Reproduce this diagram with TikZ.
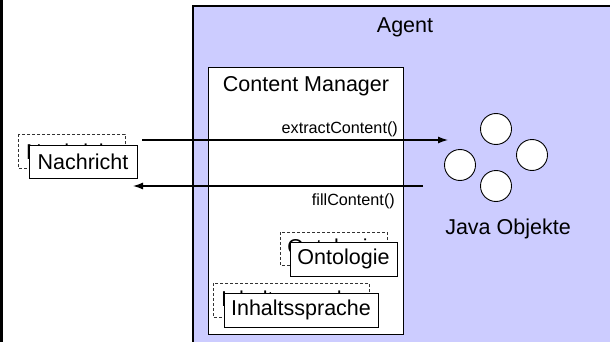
\documentclass[tikz,border=0pt]{standalone}
\usepackage{fontspec}
\setmainfont{Liberation Sans}
\usetikzlibrary{arrows.meta}
\definecolor{agentfill}{HTML}{CCCCFF}
\tikzset{
  big/.style={font=\fontsize{21.5}{24}\selectfont, inner sep=0pt},
  small/.style={font=\fontsize{16.2}{18}\selectfont, inner sep=0pt},
  solidbox/.style={draw=black, line width=0.9pt, fill=white},
  dashbox/.style={draw=black!80, line width=0.8pt, dash pattern=on 3pt off 2pt},
  flow/.style={draw=black, line width=1.3pt, -{Latex[length=10pt,width=7pt]}},
  obj/.style={circle, draw=black, line width=0.9pt, fill=white, minimum size=31pt, inner sep=0pt}
}
\begin{document}
\begin{tikzpicture}[x=1pt,y=-1pt]
\useasboundingbox (0,0) rectangle (610,342);
\clip (0,0) rectangle (610,342);
\fill[white] (0,0) rectangle (610,342);

% left frame edge
\draw[line width=3pt] (1.5,-2) -- (1.5,345);

% agent area
\draw[fill=agentfill, line width=1.1pt] (193,6) rectangle (615,350);
\node[big] (agent) at (405,27) {Agent};

% content manager
\draw[solidbox] (208,67) rectangle (403,334);
\node[big] (cm) at (306,86) {Content Manager};

% message: hidden copy behind, visible one in front
\draw[dashbox] (18,134) rectangle (125,168);
\node[big] (nachrichtback) at (71.5,152) {Nachricht};
\node[big, solidbox, minimum width=108pt, minimum height=33pt] (nachricht) at (83,161.5) {Nachricht};

% ontology
\draw[dashbox] (280,232) rectangle (387,265);
\node[big] (ontoback) at (333.5,249) {Ontologie};
\node[big, solidbox, minimum width=107pt, minimum height=34pt] (onto) at (343.5,259) {Ontologie};

% content language
\draw[dashbox] (213,283) rectangle (369,317);
\node[big] (langback) at (291,301) {Inhaltssprache};
\node[big, solidbox, minimum width=154pt, minimum height=34pt] (lang) at (301,310) {Inhaltssprache};

% java objects
\node[obj] (o1) at (496,129) {};
\node[obj] (o2) at (532,155) {};
\node[obj] (o3) at (460,165) {};
\node[obj] (o4) at (496,186) {};
\node[big] (java) at (508,229) {Java Objekte};

% message flow
\coordinate (exstart) at (142,140);
\coordinate (exend) at (448,140);
\coordinate (fillstart) at (423,186);
\coordinate (fillend) at (133,186);
\draw[flow] (exstart) -- (exend);
\draw[flow] (fillstart) -- (fillend);
\node[small, anchor=base east] (extract) at (398,134) {extractContent()};
\node[small, anchor=base east] (fill) at (395,205) {fillContent()};
\end{tikzpicture}
\end{document}
